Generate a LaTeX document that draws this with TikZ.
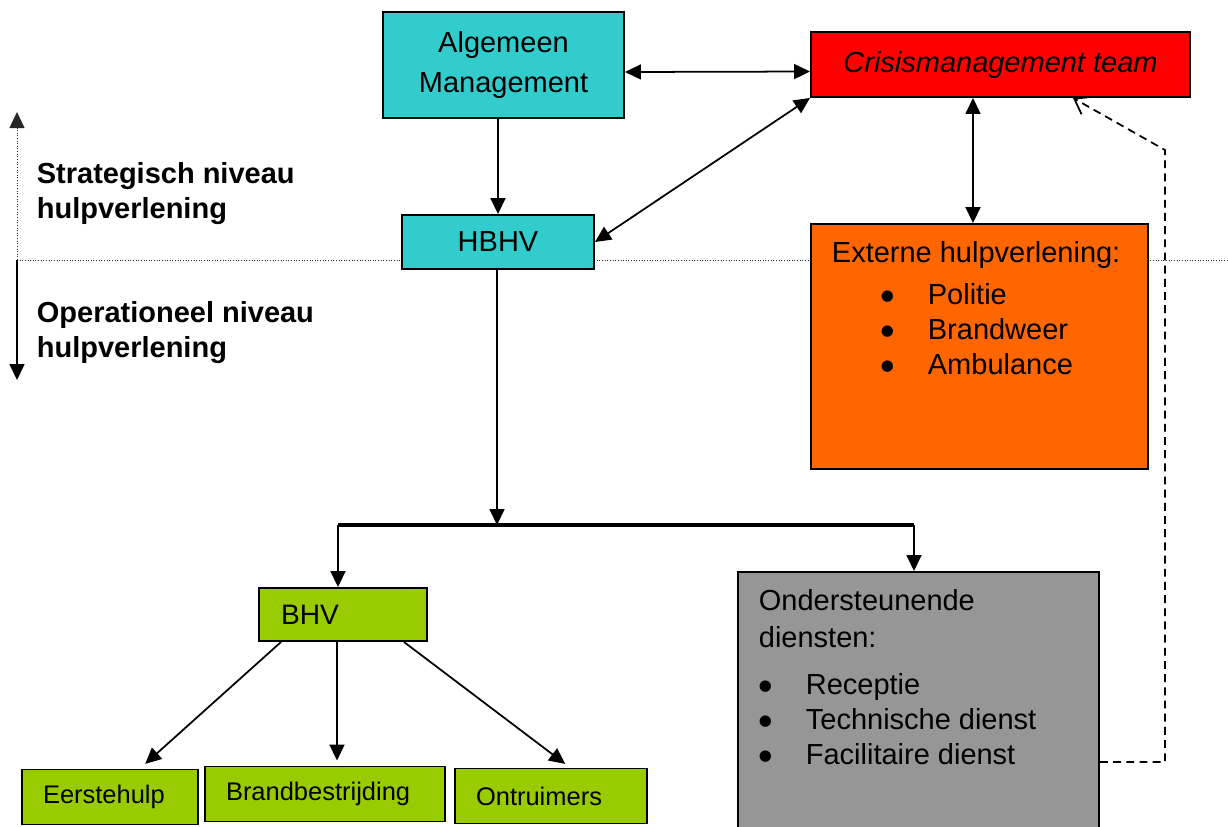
\documentclass[tikz,border=0pt]{standalone}
\usepackage{fontspec}
\setmainfont{Liberation Sans}
\newfontfamily\bolfont{DejaVu Sans}
\usepackage{xcolor}
\usepackage{tikz}
\usetikzlibrary{arrows.meta,positioning}
\definecolor{turq}{HTML}{33CCCC}
\definecolor{crisisred}{HTML}{FF0000}
\definecolor{extorange}{HTML}{FF6600}
\definecolor{bhvgreen}{HTML}{99CC00}
\definecolor{dienstgrey}{HTML}{969696}
\newcommand{\bul}[1]{\makebox[0.94cm][l]{\raisebox{2.6pt}{\bolfont\fontsize{8.5}{8.5}\selectfont ●}}#1}
\tikzset{blok/.style={rectangle,draw,line width=1.1pt,inner sep=0pt,font=\fontsize{16.5}{20}\selectfont},
sz/.style 2 args={minimum width=#1*0.02cm,minimum height=#2*0.02cm},
groen/.style={blok,fill=bhvgreen,align=left,inner xsep=0.42cm,minimum height=1.1cm,font=\fontsize{14.5}{17}\selectfont},
lijst/.style={anchor=north west,align=left,inner sep=0pt,font=\fontsize{16.5}{19.9}\selectfont},
niveau/.style={anchor=north west,align=left,inner sep=0pt,font=\bfseries\fontsize{16.5}{19.9}\selectfont},
grens/.style={densely dotted,line width=0.5pt,black!85},
stippel/.style={dash pattern=on 4.5pt off 3pt,-{Straight Barb[length=0.28cm,width=0.4cm]}}}

\begin{document}
\begin{tikzpicture}[x=0.02cm,y=-0.02cm,>={Triangle[length=0.32cm,width=0.3cm]},line width=1pt]
        \useasboundingbox (0,0) rectangle (1228,826);
        \clip (0,0) rectangle (1228,826);

        % grens strategisch / operationeel
        \coordinate (grensL) at (17,260);
        \coordinate (grensR) at (1228,260);
        \coordinate (strat) at (17,112);
        \coordinate (oper) at (17,380);
        \draw[grens] (grensL) -- (grensR);
        \draw[grens,->] (grensL) -- (strat);
        \draw[->] (grensL) -- (oper);
        \node[niveau] (stratlbl) at (36,162) {Strategisch niveau\\hulpverlening};
        \node[niveau] (operlbl) at (36,301) {Operationeel niveau\\hulpverlening};

        % blokken
        \node[blok,fill=turq,sz={241}{106},align=center,font=\fontsize{16.5}{22.8}\selectfont] (alg) at (503.5,65) {Algemeen\\Management};
        \node[blok,fill=crisisred,sz={379}{65},font=\itshape\fontsize{16.5}{20}\selectfont] (cmt) at (1000.5,64.5) {Crisismanagement team};
        \node[blok,fill=turq,sz={192}{54}] (hbhv) at (498,242) {HBHV};
        \node[blok,fill=extorange,sz={337}{245}] (ext) at (979.5,346.5) {};
        \node[lijst] (exttxt) at ([shift={(21,18)}]ext.north west) {Externe hulpverlening:\\[0.14cm]\hspace*{0.98cm}\bul{Politie}\\\hspace*{0.98cm}\bul{Brandweer}\\\hspace*{0.98cm}\bul{Ambulance}};
        \node[blok,fill=bhvgreen,minimum height=1.06cm,text width=2.48cm,inner xsep=0.44cm,align=left,font=\fontsize{16}{19}\selectfont] (bhv) at (343,614.5) {BHV};
        \node[blok,fill=dienstgrey,sz={361}{320},anchor=north] (ond) at (918.5,571) {};
        \node[lijst] (ondtxt) at ([shift={(21,18)}]ond.north west) {Ondersteunende\\[0.04cm]diensten:\\[0.24cm]\bul{Receptie}\\\bul{Technische dienst}\\\bul{Facilitaire dienst}};
        \node[groen,text width=2.68cm] (eh) at (110,797) {Eerstehulp};
        \node[groen,text width=3.96cm] (bb) at (325,794) {Brandbestrijding};
        \node[groen,text width=3.0cm] (ont) at (551,796) {Ontruimers};

        % verbindingen
        \draw[<->] ([yshift=-0.14cm]alg.east) -- ([yshift=-0.14cm]cmt.west);
        \draw[<->] (cmt.south west) -- (hbhv.east);
        \draw[<->] ([xshift=-0.13cm]ext.north |- cmt.south) -- ([xshift=-0.13cm]ext.north);
        \draw[->] (alg.south -| hbhv.north) -- (hbhv.north);

        \coordinate (bus) at (497,525);
        \coordinate (busL) at (338,525);
        \coordinate (busR) at (914,525);
        \draw[->] ([xshift=-0.02cm]hbhv.south) -- (bus);
        \draw[line width=2pt] (busL) -- (busR);
        \draw[->] (busL) -- (busL |- bhv.north);
        \draw[->] (busR) -- (busR |- ond.north);

        \draw[->,shorten >=0.14cm] ([xshift=0.46cm]bhv.south west) -- ([xshift=0.6cm]eh.north);
        \draw[->,shorten >=0.1cm] ([xshift=-0.12cm]bhv.south) -- ([xshift=-0.12cm]bhv.south |- bb.north);
        \draw[->,shorten >=0.12cm] ([xshift=-0.48cm]bhv.south east) -- ([xshift=0.38cm]ont.north);

        \coordinate (stip1) at (1165,762);
        \coordinate (stip2) at (1165,150);
        \draw[stippel] (ond.east |- stip1) -- (stip1) -- (stip2) -- ([xshift=1.45cm]cmt.south);
    \end{tikzpicture}
\end{document}
